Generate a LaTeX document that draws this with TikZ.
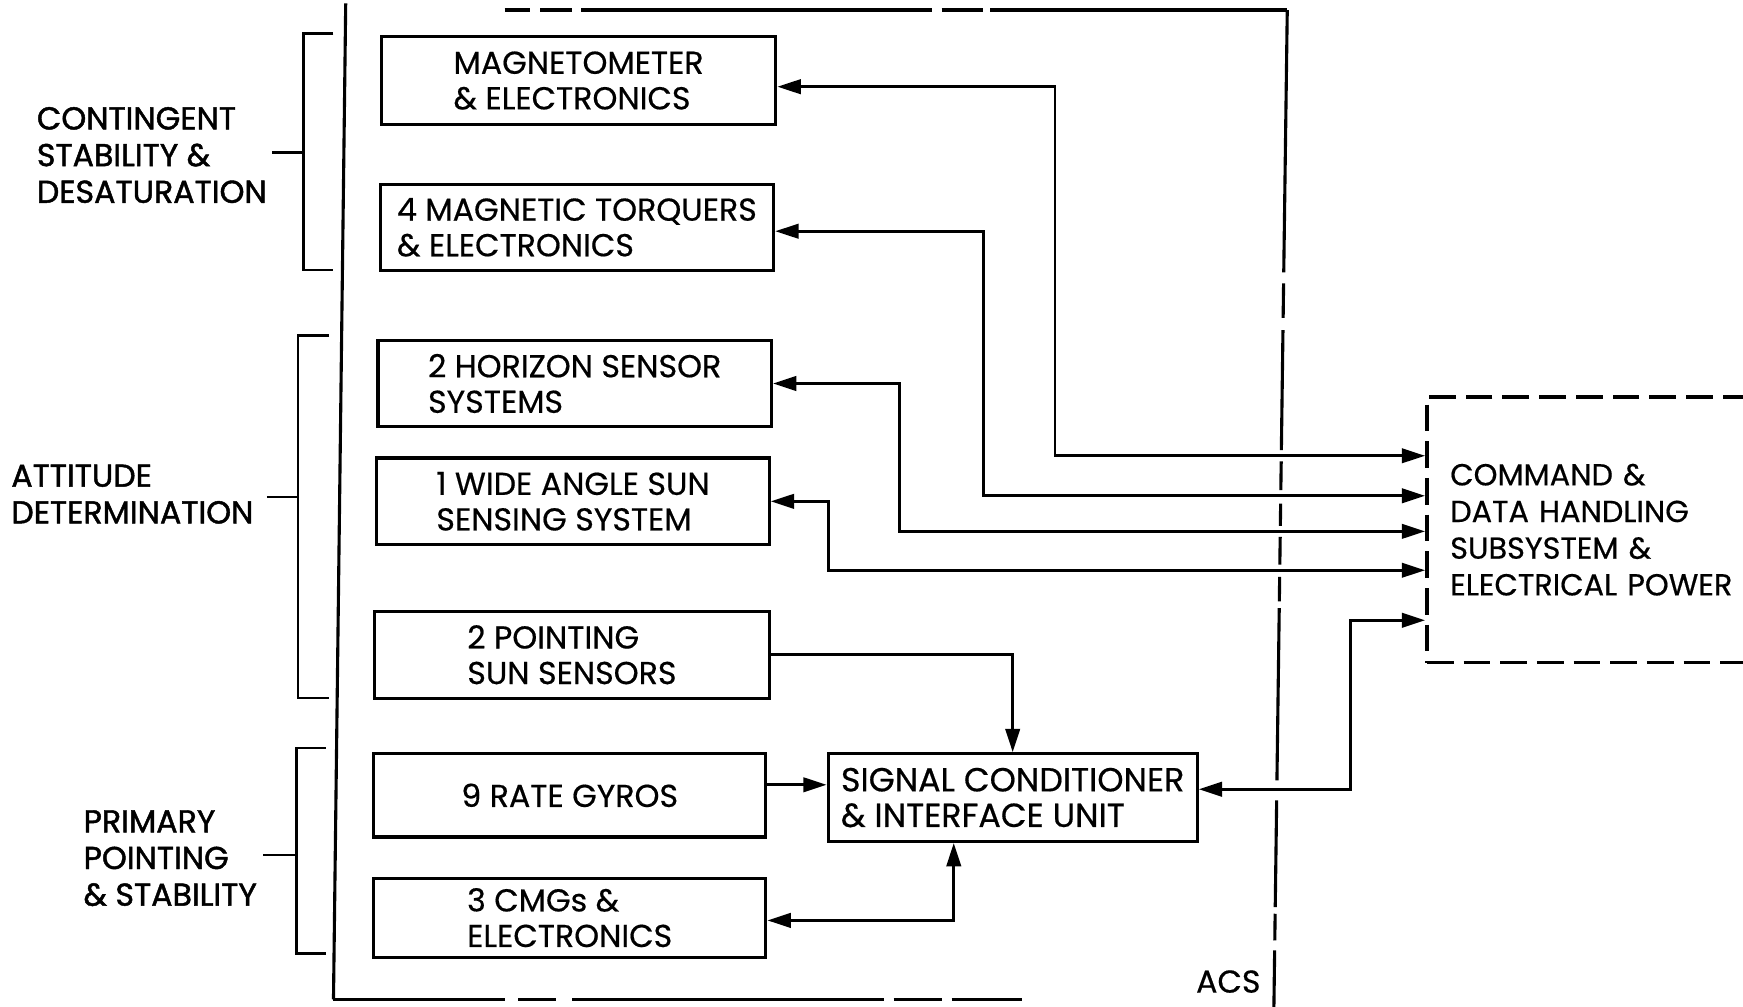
\documentclass[tikz,border=0pt]{standalone}
\usepackage{fontspec}
\setmainfont{Poppins}[FakeBold=0.5]
\newfontfamily\lblfam{Poppins}[FakeBold=1.4]
\usetikzlibrary{arrows.meta}
\newcommand\boxfnt{\fontsize{28.5}{32}\selectfont}
\newcommand\sigfnt{\fontsize{30}{32}\selectfont}
\newcommand\lblfnt{\lblfam\fontsize{28.5}{33}\selectfont}
\newcommand\cdhfnt{\fontsize{27.3}{33}\selectfont}
\begin{document}
\begin{tikzpicture}[x=1pt,y=-1pt,
  >={Triangle[length=21pt,width=13pt]},
  box/.style={draw,line width=2.8pt,inner sep=0pt,align=left,font=\boxfnt},
  wire/.style={line width=2.5pt},
  acsline/.style={line width=2.8pt},
  brk/.style={line width=2.4pt},
  lbl/.style={anchor=west,inner sep=0pt,align=left,font=\lblfnt}]
\useasboundingbox (0,0) rectangle (1568,905);
\clip (0,0) rectangle (1568,905);
\fill[white] (0,0) rectangle (1568,905);

% group labels
\node[lbl] (lcont) at (33,139.5) {CONTINGENT\\STABILITY \&\\DESATURATION};
\node[lbl] (latt) at (10,444.5) {ATTITUDE\\DETERMINATION};
\node[lbl] (lprim) at (75,772) {PRIMARY\\POINTING\\\& STABILITY};

% brackets
\draw[brk] (300,30) -- (273,30) -- (273,243) -- (300,243);
\draw[brk] (245,137) -- (273,137);
\draw[brk] (296,302) -- (268,302) -- (268,628) -- (296,628);
\draw[brk] (240,447) -- (268,447);
\draw[brk] (293,673) -- (267,673) -- (267,858) -- (293,858);
\draw[brk] (237,769) -- (267,769);

% ACS boundary
\draw[acsline] (311,3) -- (300,899);
\foreach \a/\b in {300/454,466/500,515/795,804/847,856/919}
  \draw[acsline] (\a,899) -- (\b,899);
\foreach \a/\b in {454/477,486/515,523/838,847/884,891/1158}
  \draw[acsline] (\a,9) -- (\b,9);
\foreach \a/\b in {9/245,255/286,297/405,415/441,453/473,483/508,519/541,547/702,720/816,822/846,855/910}
  \draw[acsline] ({1158-12*(\a-10)/895},\a) -- ({1158-12*(\b-10)/895},\b);
\node[font=\boxfnt,inner sep=0pt] (acs) at (1105,883) {ACS};

% boxes
\node[box,minimum width=355pt,minimum height=79pt] (mag) at (520.5,72.5) {MAGNETOMETER\\\& ELECTRONICS};
\node[box,minimum width=354pt,minimum height=77pt] (torq) at (519,204.5) {4 MAGNETIC TORQUERS\\\& ELECTRONICS};
\node[box,minimum width=354pt,minimum height=78pt] (hor) at (517,345) {2 HORIZON SENSOR\\SYSTEMS};
\node[box,minimum width=353pt,minimum height=78pt] (wide) at (515.5,451) {1 WIDE ANGLE SUN\\SENSING SYSTEM};
\node[box,minimum width=355pt,minimum height=78pt] (point) at (514.5,589) {2 POINTING\\SUN SENSORS};
\node[box,minimum width=353pt,minimum height=75pt] (gyro) at (512.5,715.5) {9 RATE GYROS};
\node[box,minimum width=353pt,minimum height=71pt] (cmg) at (512.5,825.5) {3 CMGs \&\\ELECTRONICS};
\node[box,minimum width=332pt,minimum height=79pt,font=\sigfnt] (sig) at (911,717.5) {SIGNAL CONDITIONER\\\& INTERFACE UNIT};

% command & data handling (dashed, runs off the right edge)
\node[draw,line width=3.2pt,dash pattern=on 24pt off 9pt,anchor=west,
      minimum height=239pt,text width=330pt,inner xsep=21pt,inner ysep=0pt,
      align=left,font=\cdhfnt] (cdh) at (1282,476.5)
      {COMMAND \&\\DATA HANDLING\\SUBSYSTEM \&\\ELECTRICAL POWER};

% connectors
\coordinate (y1) at (0,410);
\coordinate (y2) at (0,446);
\coordinate (y3) at (0,478);
\coordinate (y4) at (0,513);
\coordinate (y5) at (0,558);
\draw[wire,<->] ([yshift=-5.5pt]mag.east) -| (949,410) -- (cdh.west |- y1);
\draw[wire,<->] ([yshift=-3.5pt]torq.east) -| (885,446) -- (cdh.west |- y2);
\draw[wire,<->] (hor.east) -| (809,478) -- (cdh.west |- y3);
\draw[wire,<->] (wide.east) -| (745,513) -- (cdh.west |- y4);
\draw[wire,->] (point.east) -| (sig.north);
\draw[wire,->] ([yshift=9.5pt]gyro.east) -- ([yshift=9.5pt]gyro.east -| sig.west);
\draw[wire,<->] ([yshift=-2.5pt]cmg.east) -| ([xshift=-53pt]sig.south);
\draw[wire,<->] ([yshift=7.5pt]sig.east) -| (1215,558) -- (cdh.west |- y5);
\end{tikzpicture}
\end{document}
